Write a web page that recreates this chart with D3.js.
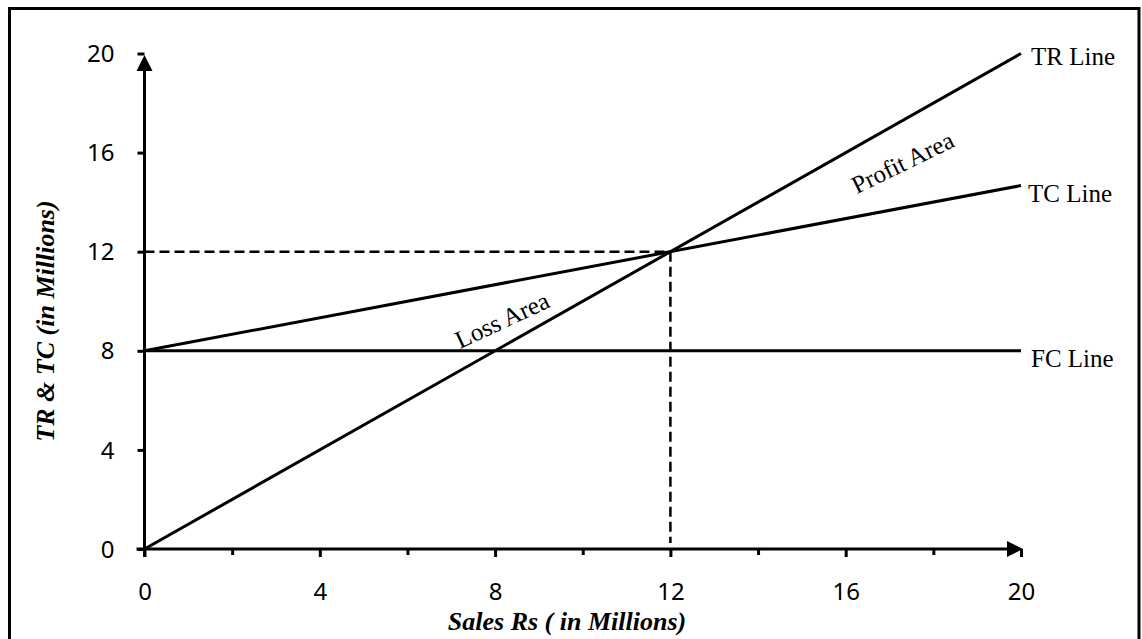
<!DOCTYPE html>
<html>
<head>
<meta charset="utf-8">
<script src="https://cdn.jsdelivr.net/npm/d3@7"></script>
<style>
  body { margin: 0; background: #fff; }
  svg { display: block; }
  .tick text { font-family: "Noto Sans", sans-serif; font-size: 24px; fill: #000; }
  .lbl { font-family: "Liberation Serif", "Times New Roman", serif; font-size: 25px; fill: #000; }
  .title { font-family: "Liberation Serif", "Times New Roman", serif; font-size: 26px; font-weight: bold; font-style: italic; fill: #000; }
</style>
</head>
<body>
<div id="chart"></div>
<script>
// break-even chart data (values in millions)
const salesX = [0, 20];
const trValues = [0, 20];
const tcValues = [8, 14.67];
const fcValues = [8, 8];
const breakEven = [12, 12];
const xTicks = [0, 2, 4, 6, 8, 10, 12, 14, 16, 18, 20];
const yTicks = [0, 4, 8, 12, 16, 20];
const lineNames = ["TR Line", "TC Line", "FC Line"];
const areaNames = ["Loss Area", "Profit Area"];
const areaAt = [[8.16, 9.24], [17.3, 15.6]];

const width = 1142, height = 639;

const svg = d3.select("#chart").append("svg")
    .attr("width", width)
    .attr("height", height);

// outer frame, bottom edge runs off the picture
svg.append("rect")
    .attr("x", 9.5).attr("y", 8.5)
    .attr("width", 1129.5).attr("height", 700)
    .attr("fill", "none").attr("stroke", "#000").attr("stroke-width", 3);

let x = d3.scaleLinear().domain([0, 20]).range([144.5, 1021]);
let y = d3.scaleLinear().domain([0, 20]).range([549, 53.5]);

// x axis
let xAxis = d3.axisBottom(x)
    .tickValues(xTicks)
    .tickSizeInner(8)
    .tickSizeOuter(0)
    .tickPadding(26)
    .tickFormat(d => d % 4 == 0 ? d : "");

let gx = svg.append("g")
    .attr("transform", "translate(0," + y(0) + ")")
    .call(xAxis);
gx.select(".domain").remove();
gx.selectAll(".tick line")
    .attr("stroke", "#000")
    .attr("stroke-width", 3)
    .attr("y2", d => d % 4 == 0 ? 8 : 6);

// y axis
let yAxis = d3.axisLeft(y)
    .tickValues(yTicks)
    .tickSizeInner(7)
    .tickSizeOuter(0)
    .tickPadding(23);

let gy = svg.append("g")
    .attr("transform", "translate(" + x(0) + ",0)")
    .call(yAxis);
gy.select(".domain").remove();
gy.selectAll(".tick line").attr("stroke", "#000").attr("stroke-width", 3);
gy.selectAll(".tick text").attr("dy", "0.34em");

// axis lines with arrow heads
svg.append("line")
    .attr("x1", x(0) - 8).attr("y1", y(0))
    .attr("x2", x(20) - 8).attr("y2", y(0))
    .attr("stroke", "#000").attr("stroke-width", 3);
svg.append("path")
    .attr("d", "M" + (x(20) + 2) + "," + y(0) + "l-16,-8v16z")
    .attr("fill", "#000");

svg.append("line")
    .attr("x1", x(0)).attr("y1", y(0) + 8)
    .attr("x2", x(0)).attr("y2", y(20) + 10)
    .attr("stroke", "#000").attr("stroke-width", 3);
svg.append("path")
    .attr("d", "M" + x(0) + "," + (y(20) + 1.5) + "l-8,16h16z")
    .attr("fill", "#000");

// break-even dashed guides
svg.append("path")
    .attr("d", "M" + x(0) + "," + y(breakEven[1]) + "H" + x(breakEven[0]) +
               "M" + x(breakEven[0]) + "," + y(breakEven[1]) + "V" + (y(0) - 6))
    .attr("fill", "none")
    .attr("stroke", "#000")
    .attr("stroke-width", 2.5)
    .attr("stroke-dasharray", "10,5");

// TR, TC, FC lines
let line = d3.line().x(d => x(d[0])).y(d => y(d[1]));
let series = [trValues, tcValues, fcValues];
let labelShift = [[10, 11], [7, 16], [10, 16]];

series.forEach(function (vals, i) {
    let pts = salesX.map((v, j) => [v, vals[j]]);
    svg.append("path")
        .datum(pts)
        .attr("fill", "none")
        .attr("stroke", "#000")
        .attr("stroke-width", 3)
        .attr("d", line);
    svg.append("text")
        .attr("class", "lbl")
        .attr("x", x(20) + labelShift[i][0])
        .attr("y", y(vals[1]) + labelShift[i][1])
        .text(lineNames[i]);
});

// area labels along the TR line
let areaAngle = [-25, -26];
areaNames.forEach(function (name, i) {
    let px = x(areaAt[i][0]), py = y(areaAt[i][1]);
    svg.append("text")
        .attr("class", "lbl")
        .attr("text-anchor", "middle")
        .attr("dominant-baseline", "central")
        .attr("transform", "translate(" + px + "," + py + ") rotate(" + areaAngle[i] + ")")
        .text(name);
});

// axis titles
svg.append("text")
    .attr("class", "title")
    .attr("x", 567)
    .attr("y", 630)
    .attr("text-anchor", "middle")
    .text("Sales Rs ( in Millions)");

svg.append("text")
    .attr("class", "title")
    .attr("text-anchor", "middle")
    .attr("transform", "translate(54,321) rotate(-90)")
    .text("TR & TC (in Millions)");
</script>
</body>
</html>
